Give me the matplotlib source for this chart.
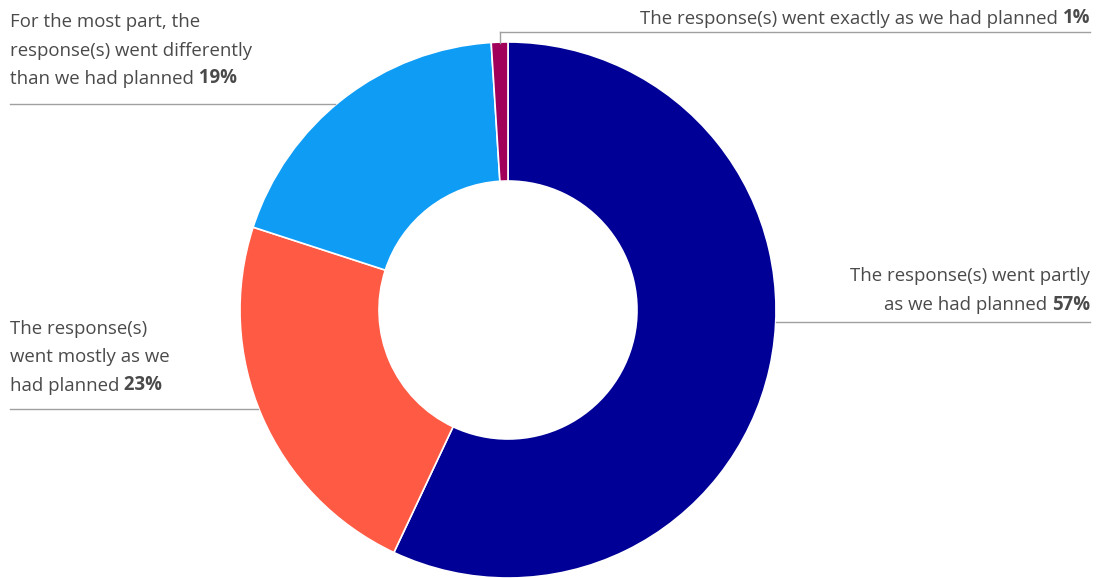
import matplotlib.pyplot as plt

plt.rcParams['font.family'] = ['Open Sans', 'DejaVu Sans']

# survey answers, clockwise from the top
shares = [57, 23, 19, 1]
colors = ['#000096', '#FF5A43', '#0E9CF5', '#A0005A']
texts = [
    'The response(s) went partly\nas we had planned',
    'The response(s)\nwent mostly as we\nhad planned',
    'For the most part, the\nresponse(s) went differently\nthan we had planned',
    'The response(s) went exactly as we had planned',
]

W, H = 1110, 578
fig = plt.figure(figsize=(W / 100, H / 100), dpi=100)
ax = fig.add_axes([0, 0, 1, 1])

cx, cy, r_out, r_in = 508, 310, 268, 129
# y axis is flipped below, so -90 is the top and counterclock runs clockwise on screen
ax.pie(shares, colors=colors, startangle=-90, counterclock=True,
       radius=r_out, center=(cx, cy), frame=True,
       wedgeprops=dict(width=r_out - r_in, edgecolor='white', linewidth=1.2))
ax.set_xlim(0, W)
ax.set_ylim(H, 0)
ax.set_aspect('equal')
ax.axis('off')

grey = '#4a4a4a'
line_c = '#a0a0a0'
fs = 13.4


def label(x, y, text, pct, align):
    lines = text.split('\n')
    step = 28.5
    for i, ln in enumerate(lines):
        yy = y + i * step
        last = i == len(lines) - 1
        if align == 'left':
            t = ax.text(x, yy, ln, ha='left', va='baseline', fontsize=fs, color=grey)
            if last:
                ax.annotate(' ' + pct, xy=(1, 0), xycoords=t, ha='left', va='bottom',
                            fontsize=fs, color=grey, fontweight='bold')
        else:
            if last:
                b = ax.text(x, yy, pct, ha='right', va='baseline', fontsize=fs,
                            color=grey, fontweight='bold')
                ax.annotate(ln + ' ', xy=(0, 0), xycoords=b, ha='right', va='bottom',
                            fontsize=fs, color=grey)
            else:
                ax.text(x, yy, ln, ha='right', va='baseline', fontsize=fs, color=grey)


label(1090, 281, texts[0], '57%', 'right')
label(10, 334, texts[1], '23%', 'left')
label(10, 27, texts[2], '19%', 'left')
label(1090, 23, texts[3], '1%', 'right')

# leader lines
ax.plot([776, 1090], [322, 322], color=line_c, lw=1)
ax.plot([10, 258], [409, 409], color=line_c, lw=1)
ax.plot([10, 335], [104, 104], color=line_c, lw=1)
ax.plot([500, 1090], [32, 32], color=line_c, lw=1)
ax.plot([500, 500], [32, 43], color=line_c, lw=1)

fig.savefig('out.png', dpi=100)
